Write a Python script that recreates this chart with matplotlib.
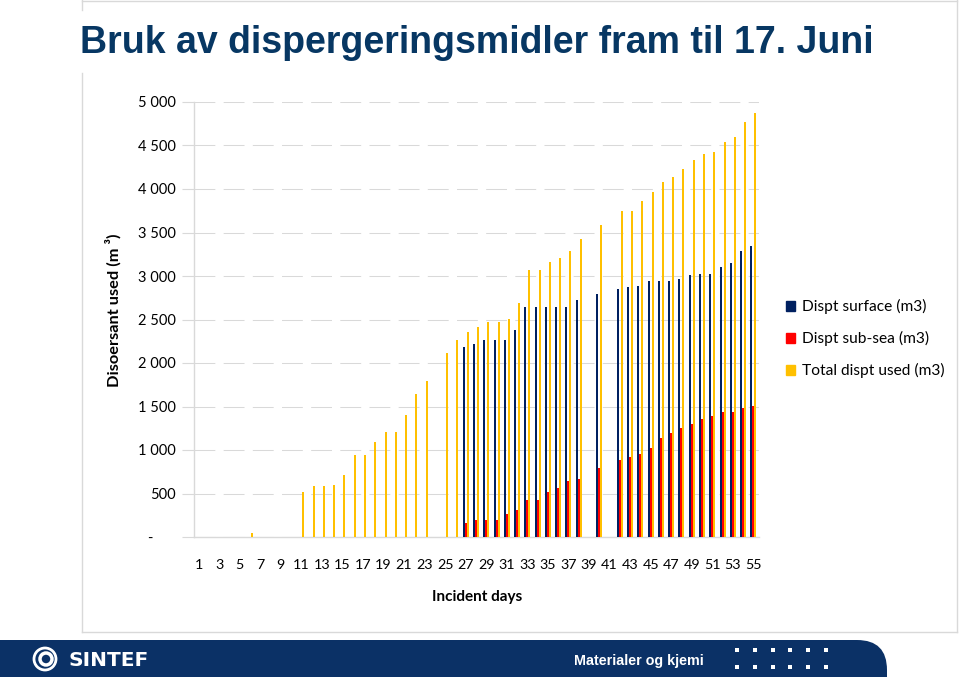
import numpy as np
import matplotlib
matplotlib.use('Agg')
import matplotlib.pyplot as plt
from matplotlib.patches import Patch, FancyBboxPatch, Rectangle, Circle
from matplotlib.ticker import FuncFormatter

# dager og forbruk (m3)
days = list(range(1, 56))
total_used = [0, 0, 0, 0, 0, 50, 0, 0, 0, 0,
              520, 590, 590, 600, 710, 940, 940, 1090, 1210, 1210,
              1400, 1640, 1790, 0, 2110, 2270, 2360, 2410, 2470, 2470,
              2510, 2690, 3070, 3070, 3160, 3210, 3290, 3430, 0, 3590,
              0, 3750, 3750, 3860, 3970, 4080, 4140, 4230, 4330, 4400,
              4430, 4540, 4600, 4770, 4870]
surface = [0]*26 + [2180, 2220, 2270, 2270, 2270, 2380, 2640, 2640, 2640, 2640,
                    2640, 2720, 0, 2790, 0, 2850, 2870, 2880, 2940, 2940,
                    2940, 2970, 3010, 3020, 3020, 3100, 3150, 3290, 3340]
subsea = [0]*26 + [160, 190, 190, 190, 260, 310, 430, 430, 520, 560,
                   640, 670, 0, 790, 0, 890, 920, 950, 1020, 1140,
                   1190, 1250, 1300, 1360, 1390, 1440, 1440, 1480, 1510]
series_labels = ['Dispt surface (m3)', 'Dispt sub-sea (m3)', 'Total dispt used (m3)']
colors = ['#002060', '#ff0000', '#ffc000']
yticks = list(range(0, 5001, 500))

W, H = 960, 677
fig = plt.figure(figsize=(W/100, H/100), dpi=100)

# bakgrunn: ramme, tittel, bunnlinje
bg = fig.add_axes([0, 0, 1, 1], zorder=0)
bg.set_xlim(0, W)
bg.set_ylim(H, 0)
bg.axis('off')
grey = '#d9d9d9'
bg.plot([82, 957], [0.5, 0.5], color=grey, lw=1)
bg.plot([957, 957], [0, 632], color=grey, lw=1)
bg.plot([82, 957], [632, 632], color=grey, lw=1)
bg.plot([82, 82], [0, 10], color=grey, lw=1)
bg.plot([82, 82], [73, 632], color=grey, lw=1)
bg.text(80, 43, 'Bruk av dispergeringsmidler fram til 17. Juni', fontsize=27,
        fontweight='bold', family='Liberation Sans', color='#073763',
        ha='left', va='center')

navy = '#0b3166'
bg.add_patch(FancyBboxPatch((-60, 640), 947, 80,
                            boxstyle='round,pad=0,rounding_size=30',
                            fc=navy, ec='none'))
bg.add_patch(Circle((45, 659), 11, fc='none', ec='white', lw=2))
bg.add_patch(Circle((46, 659), 6, fc='none', ec='white', lw=2.5))
bg.text(68, 660, 'SINTEF', fontsize=14.5, fontweight='bold', family='DejaVu Sans',
        color='white', ha='left', va='center')
bg.text(574, 661, 'Materialer og kjemi', fontsize=10.3, fontweight='bold',
        family=['Liberation Sans Narrow', 'Liberation Sans'], color='white',
        ha='left', va='center')
for yy in [650, 667]:
    for xx in [737, 755, 773, 790, 808, 826]:
        bg.add_patch(Rectangle((xx-1.7, yy-1.7), 3.4, 3.4, fc='white', ec='none'))

# diagram
left, right, top, bottom = 193.5, 758.5, 102, 537
ax = fig.add_axes([left/W, 1-bottom/H, (right-left)/W, (bottom-top)/H], zorder=1)
ax.patch.set_alpha(0)
x = np.array(days)
w = 0.195
ax.bar(x - w, surface, w, color=colors[0], zorder=3)
ax.bar(x, subsea, w, color=colors[1], zorder=3)
ax.bar(x + w, total_used, w, color=colors[2], zorder=3)

ax.set_xlim(0.5, 55.5)
ax.set_ylim(0, 5000)
ax.set_yticks(yticks)
ax.yaxis.set_major_formatter(FuncFormatter(
    lambda v, p: '-' + ' '*6 if v == 0 else '{:,}'.format(int(v)).replace(',', ' ')))
ax.set_xticks(days[::2])
ax.set_xticklabels([str(d) for d in days[::2]])
ax.grid(axis='y', color=grey, lw=0.75, linestyle=(0, (20, 8)), zorder=0)
ax.set_axisbelow(True)
for s in ['top', 'right']:
    ax.spines[s].set_visible(False)
for s in ['left', 'bottom']:
    ax.spines[s].set_color(grey)
    ax.spines[s].set_linewidth(1)
ax.tick_params(axis='y', length=8.5, color=grey, pad=4, labelsize=10.5)
ax.tick_params(axis='x', length=0, pad=16, labelsize=10.3)
for lab in ax.get_xticklabels() + ax.get_yticklabels():
    lab.set_family('Lato')

fig.text(477/W, 1-597/H, 'Incident days', fontsize=11, fontweight='bold',
         family='Lato', ha='center', va='center')
fig.text(113/W, 1-310/H, 'Disoersant used (m \u00b3)', fontsize=11.8, fontweight='bold',
         family='Lato', rotation=90, ha='center', va='center')

handles = [Patch(color=c) for c in colors]
ax.legend(handles, series_labels, loc='upper left',
          bbox_to_anchor=(772/W, 1-285/H), bbox_transform=fig.transFigure,
          frameon=False, handlelength=0.6, handleheight=0.6, handletextpad=0.4,
          labelspacing=1.1, prop={'family': 'Lato', 'size': 11.2})

fig.savefig('out.png', dpi=100)
